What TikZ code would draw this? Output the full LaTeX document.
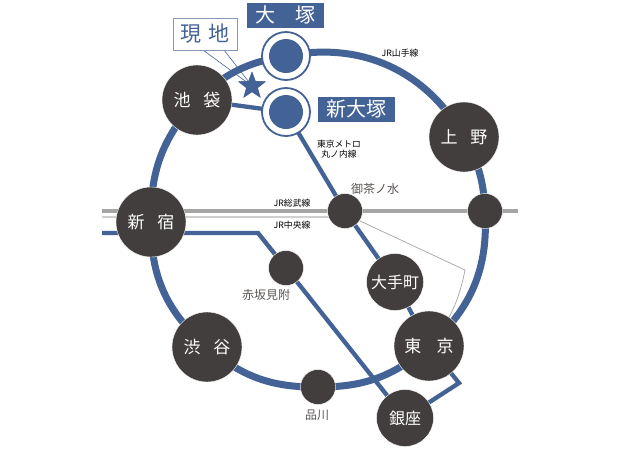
\documentclass[tikz,border=0pt]{standalone}
\usepackage{fontspec}
\setmainfont{Noto Sans CJK JP}
\usetikzlibrary{shapes.geometric}
\definecolor{lineblue}{HTML}{436296}
\definecolor{stdark}{HTML}{423E3D}
\definecolor{sobu}{HTML}{A5A5A5}
\definecolor{chuo}{HTML}{CFCFCF}
\definecolor{lbl}{HTML}{5A5654}
\tikzset{
  big/.style={circle,fill=stdark,draw=white,line width=.4pt,minimum size=70pt,inner sep=0pt,text=white,font=\fontsize{17}{17}\selectfont},
  mid/.style={circle,fill=stdark,draw=white,line width=.4pt,minimum size=57pt,inner sep=0pt,text=white,font=\fontsize{16}{16}\selectfont},
  small/.style={circle,fill=stdark,draw=white,line width=.4pt,minimum size=35pt,inner sep=0pt},
  here/.style={circle,fill=lineblue,minimum size=34pt,inner sep=0pt},
  ring/.style={circle,draw=lineblue,line width=1.8pt,fill=white,minimum size=48pt,inner sep=0pt},
  loopline/.style={draw=lineblue,line width=7pt},
  metro/.style={draw=lineblue,line width=4.3pt,line join=miter},
  tag/.style={fill=lineblue,draw=white,line width=.3pt,text=white,inner sep=0pt,font=\fontsize{20}{20}\selectfont},
  tiny/.style={inner sep=0pt,text=black,font=\fontsize{8.8}{10}\selectfont,align=center},
  gray lbl/.style={inner sep=0pt,text=lbl,font=\fontsize{12}{12}\selectfont},
  mapstar/.style={star,star points=5,star point ratio=2.4,fill=lineblue,minimum size=29pt,inner sep=0pt},
}
\begin{document}
\begin{tikzpicture}[x=1pt,y=-1pt]
\useasboundingbox (0,0) rectangle (620,448);
\fill[white] (0,0) rectangle (620,448);
% stations
\path
 (286,56) coordinate (cotsuka)
 (286,112) coordinate (cshin)
 (197,100) coordinate (cike)
 (464,137) coordinate (cueno)
 (151,222) coordinate (cshinjuku)
 (345,211) coordinate (cocha)
 (485,211) coordinate (cright)
 (286,268) coordinate (cakasaka)
 (395,282) coordinate (cote)
 (429,346) coordinate (ctokyo)
 (405,418) coordinate (cginza)
 (318,387) coordinate (cshina)
 (207,347) coordinate (cshibuya)
 (102,211) coordinate (sobuL)
 (518,211) coordinate (sobuR)
 (102,217) coordinate (chuoL)
 (102,233) coordinate (metroL)
 (258,233) coordinate (metroA)
 (459,383) coordinate (metroB)
 (358,220) coordinate (thinA)
 (465,270) coordinate (thinB);
% JR lines
\draw[chuo,line width=2pt] (chuoL) -- (cocha |- chuoL);
\draw[sobu,line width=3.6pt] (sobuL) -- (sobuR);
\draw[sobu,line width=.7pt] (cocha) -- (thinA) -- (thinB) to[bend left=14] (ctokyo);
% metro
\draw[metro] (cike) -- (cshin) -- (cocha) -- (cote) -- (ctokyo) -- (metroB) -- (cginza) -- (cakasaka) -- (metroA) -- (metroL);
% loop
\draw[loopline] (cotsuka) to[bend left=35.9] (cueno);
\draw[loopline] (cueno) to[bend left=13.2] (cright);
\draw[loopline] (cright) to[bend left=25.9] (ctokyo);
\draw[loopline] (ctokyo) to[bend left=20.6] (cshina);
\draw[loopline] (cshina) to[bend left=20.5] (cshibuya);
\draw[loopline] (cshibuya) to[bend left=25] (cshinjuku);
\draw[loopline] (cshinjuku) to[bend left=21.7] (cike);
\draw[loopline] (cike) to[bend left=17.2] (cotsuka);
% nodes
\node[big] (ike) at (cike) {池\hspace{.75em}袋};
\node[big] (ueno) at (cueno) {上\hspace{.75em}野};
\node[big] (shinjuku) at (cshinjuku) {新\hspace{.75em}宿};
\node[big] (shibuya) at (cshibuya) {渋\hspace{.75em}谷};
\node[big] (tokyo) at (ctokyo) {東\hspace{.9em}京};
\node[mid] (ote) at (cote) {大手町};
\node[mid] (ginza) at (cginza) {銀座};
\node[small] (ocha) at (cocha) {};
\node[small] (rightst) at (cright) {};
\node[small] (akasaka) at (cakasaka) {};
\node[small] (shina) at (cshina) {};
\node[ring] (otsukaring) at (cotsuka) {};
\node[ring] (shinring) at (cshin) {};
\node[here] (otsuka) at (cotsuka) {};
\node[here] (shin) at (cshin) {};
% tags
\node[tag,minimum width=78pt,minimum height=26pt] (tagotsuka) at (285,15) {大\hspace{1em}塚};
\node[tag,minimum width=78pt,minimum height=26pt] (tagshin) at (356,109) {新大塚};
% genchi
\node[mapstar] (star) at (252,86) {};
\coordinate (calloutA) at (203,50);
\coordinate (calloutB) at (224,50);
\draw[lineblue,line width=.6pt] (calloutA) -- (star.center) -- (calloutB);
\node[draw=lineblue!65,line width=.9pt,fill=white,text=lineblue,minimum width=64pt,minimum height=32pt,inner sep=0pt,font=\fontsize{21}{21}\selectfont] (genchi) at (205,34) {現\hspace{.3em}地};
\node[mapstar] at (252,86) {};
% labels
\node[tiny] (lyama) at (400,53) {JR山手線};
\node[tiny] (lmaru) at (339,149.5) {東京メトロ\\丸ノ内線};
\node[tiny] (lsobu) at (292,203) {JR総武線};
\node[tiny] (lchuo) at (292,225) {JR中央線};
\node[gray lbl] (locha) at (375,189) {御茶ノ水};
\node[gray lbl] (laka) at (266,295) {赤坂見附};
\node[gray lbl] (lshina) at (317,415) {品川};
\end{tikzpicture}
\end{document}
